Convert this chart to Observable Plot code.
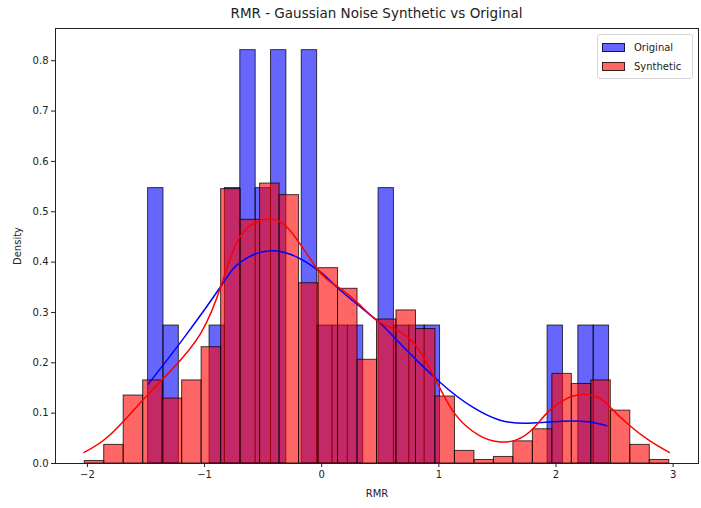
<!DOCTYPE html>
<html>
<head>
<meta charset="utf-8">
<script src="https://cdn.jsdelivr.net/npm/d3@7"></script>
<script src="https://cdn.jsdelivr.net/npm/@observablehq/plot@0.6"></script>
<style>
  html, body { margin: 0; padding: 0; background: #fff; }
  body { width: 701px; height: 508px; position: relative; overflow: hidden; font-family: "DejaVu Sans", sans-serif; }
  #title { height: 22px; line-height: 27px; text-align: center; font-size: 13.5px; color: #222; padding-left: 52px; }
  #legend { position: absolute; left: 597px; top: 34px; width: 94px; height: 43px; border: 1px solid #d6d6d6; border-radius: 3px; background: rgba(255,255,255,0.8); font-size: 10px; color: #222; }
  .item { position: absolute; left: 4px; height: 12px; display: flex; align-items: center; }
  .swatch { width: 23px; height: 9px; box-sizing: border-box; border: 1px solid rgba(0,0,0,0.75); margin-right: 9px; }
</style>
</head>
<body>
<div id="title"></div>
<div id="chart"></div>
<div id="legend"></div>
<script>
// Histogram and KDE values of RMR (density scale)
const chartTitle = "RMR - Gaussian Noise Synthetic vs Original";
const seriesNames = ["Original", "Synthetic"];
const seriesColors = ["blue", "red"];
const xTicks = [-2, -1, 0, 1, 2, 3];
const yTicks = [0, 0.1, 0.2, 0.3, 0.4, 0.5, 0.6, 0.7, 0.8];
const binCount = 30;

// Original: 30 bins over its own value range
const originalRange = [-1.482, 2.453];
const originalDensity = [
  0.547, 0.274, 0, 0, 0.274, 0.547, 0.821, 0.547, 0.821, 0,
  0.821, 0.274, 0.274, 0.274, 0, 0.547, 0.274, 0.274, 0.274, 0,
  0, 0, 0, 0, 0, 0, 0.274, 0, 0.274, 0.274
];

// Synthetic: 30 bins over its own value range
const syntheticRange = [-2.023, 2.967];
const syntheticDensity = [
  0.005, 0.037, 0.135, 0.165, 0.129, 0.165, 0.231, 0.545, 0.484, 0.556,
  0.533, 0.358, 0.388, 0.347, 0.206, 0.286, 0.304, 0.267, 0.133, 0.025,
  0.007, 0.013, 0.044, 0.068, 0.178, 0.158, 0.165, 0.105, 0.037, 0.007
];

// Kernel density estimates
const originalKdeX = [-1.480, -1.162, -0.852, -0.693, -0.380, -0.026, 0.159, 0.472, 0.628, 1.012, 1.296, 1.523, 1.765, 2.049, 2.274, 2.433];
const originalKdeY = [0.158, 0.254, 0.355, 0.400, 0.422, 0.383, 0.344, 0.284, 0.248, 0.161, 0.111, 0.086, 0.080, 0.084, 0.083, 0.075];
const syntheticKdeX = [-2.029, -1.816, -1.531, -1.290, -1.034, -0.852, -0.693, -0.474, -0.267, -0.026, 0.145, 0.316, 0.472, 0.628, 0.798, 0.969, 1.139, 1.336, 1.509, 1.662, 1.799, 1.938, 2.083, 2.225, 2.371, 2.461, 2.631, 2.801, 2.967];
const syntheticKdeY = [0.022, 0.055, 0.125, 0.184, 0.258, 0.358, 0.452, 0.485, 0.462, 0.383, 0.350, 0.317, 0.284, 0.266, 0.236, 0.168, 0.098, 0.057, 0.043, 0.047, 0.068, 0.104, 0.128, 0.137, 0.130, 0.112, 0.075, 0.045, 0.022];

function toBins(range, density) {
  const w = (range[1] - range[0]) / binCount;
  return density
    .map((d, i) => ({x1: range[0] + i * w, x2: range[0] + (i + 1) * w, y: d}))
    .filter(b => b.y > 0);
}
function toPoints(xs, ys) {
  return xs.map((x, i) => ({x, y: ys[i]}));
}

const originalBins = toBins(originalRange, originalDensity);
const syntheticBins = toBins(syntheticRange, syntheticDensity);

const chart = Plot.plot({
  width: 701,
  height: 486,
  marginTop: 6,
  marginBottom: 45,
  marginLeft: 55,
  marginRight: 3,
  style: {fontFamily: "DejaVu Sans, sans-serif", fontSize: "10px", color: "#222", background: "#fff"},
  x: {domain: [-2.2725, 3.2165]},
  y: {domain: [0, 0.864]},
  marks: [
    Plot.rectY(originalBins, {x1: "x1", x2: "x2", y: "y", fill: seriesColors[0], fillOpacity: 0.6, stroke: "black", strokeOpacity: 0.75, strokeWidth: 1}),
    Plot.rectY(syntheticBins, {x1: "x1", x2: "x2", y: "y", fill: seriesColors[1], fillOpacity: 0.6, stroke: "black", strokeOpacity: 0.75, strokeWidth: 1}),
    Plot.line(toPoints(originalKdeX, originalKdeY), {x: "x", y: "y", stroke: seriesColors[0], strokeWidth: 1.5, curve: "natural"}),
    Plot.line(toPoints(syntheticKdeX, syntheticKdeY), {x: "x", y: "y", stroke: seriesColors[1], strokeWidth: 1.5, curve: "natural"}),
    Plot.frame({stroke: "#222", strokeWidth: 1}),
    Plot.axisX({ticks: xTicks, tickFormat: d => d < 0 ? "\u2212" + Math.abs(d) : String(d), tickSize: 4, tickPadding: 3, label: "RMR", labelAnchor: "center", labelArrow: "none", labelOffset: 33}),
    Plot.axisY({ticks: yTicks, tickFormat: ".1f", tickSize: 4, tickPadding: 3, label: "Density", labelAnchor: "center", labelArrow: "none", labelOffset: 42})
  ]
});

document.getElementById("title").textContent = chartTitle;
document.getElementById("chart").appendChild(chart);

const legend = document.getElementById("legend");
seriesNames.forEach((name, i) => {
  const item = document.createElement("div");
  item.className = "item";
  item.style.top = (6 + i * 19) + "px";
  const sw = document.createElement("span");
  sw.className = "swatch";
  sw.style.background = seriesColors[i] === "blue" ? "rgba(0,0,255,0.6)" : "rgba(255,0,0,0.6)";
  const label = document.createElement("span");
  label.textContent = name;
  item.appendChild(sw);
  item.appendChild(label);
  legend.appendChild(item);
});
</script>
</body>
</html>
